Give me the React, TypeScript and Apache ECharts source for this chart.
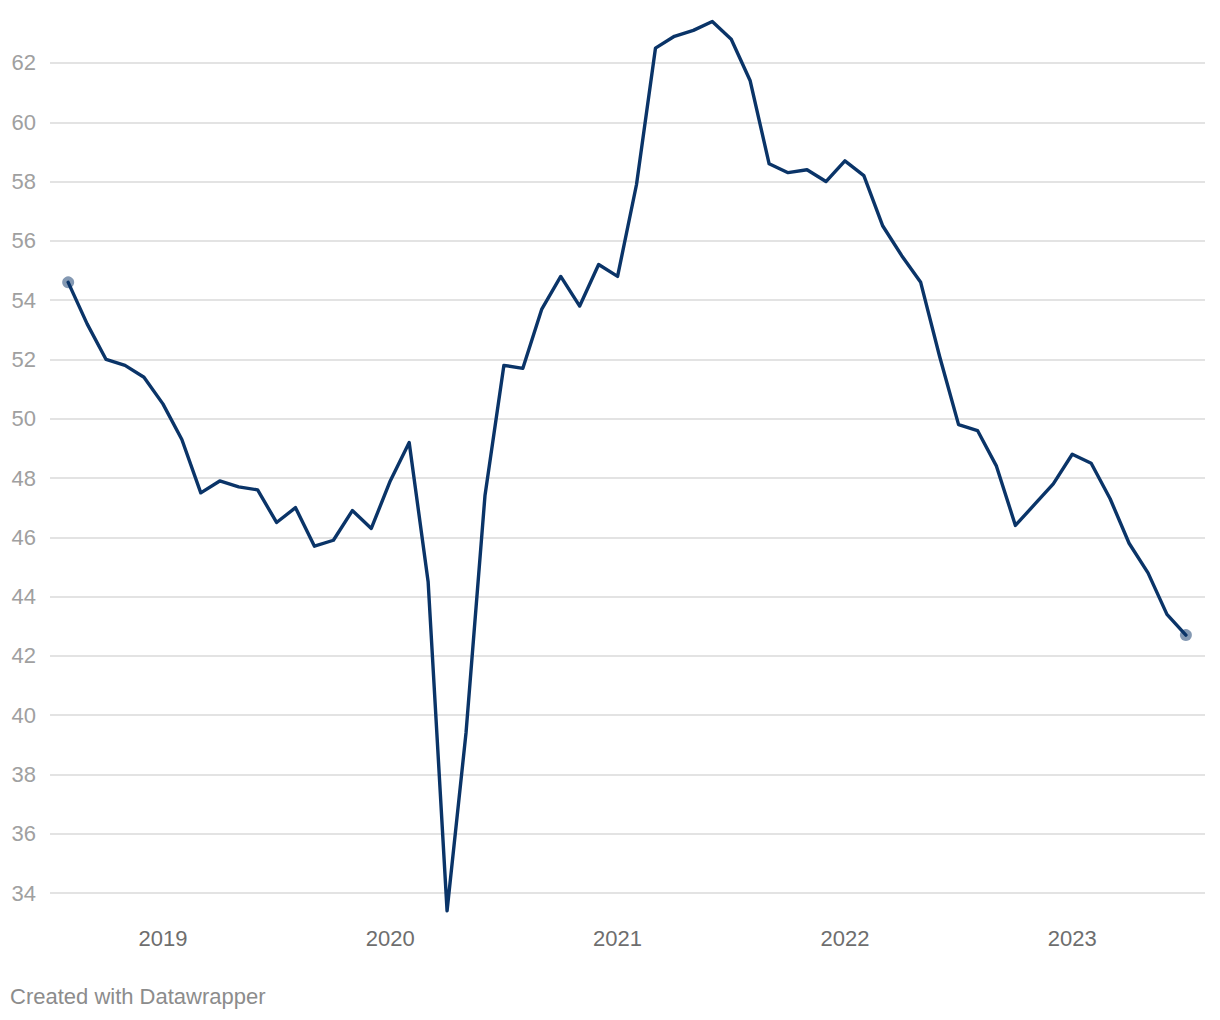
import React, { useEffect, useRef } from "react";
import * as echarts from "echarts";

const months: string[] = [
  "2018-08", "2018-09", "2018-10", "2018-11", "2018-12",
  "2019-01", "2019-02", "2019-03", "2019-04", "2019-05", "2019-06", "2019-07", "2019-08", "2019-09", "2019-10", "2019-11", "2019-12",
  "2020-01", "2020-02", "2020-03", "2020-04", "2020-05", "2020-06", "2020-07", "2020-08", "2020-09", "2020-10", "2020-11", "2020-12",
  "2021-01", "2021-02", "2021-03", "2021-04", "2021-05", "2021-06", "2021-07", "2021-08", "2021-09", "2021-10", "2021-11", "2021-12",
  "2022-01", "2022-02", "2022-03", "2022-04", "2022-05", "2022-06", "2022-07", "2022-08", "2022-09", "2022-10", "2022-11", "2022-12",
  "2023-01", "2023-02", "2023-03", "2023-04", "2023-05", "2023-06", "2023-07",
];

const values: number[] = [
  54.6, 53.2, 52.0, 51.8, 51.4,
  50.5, 49.3, 47.5, 47.9, 47.7, 47.6, 46.5, 47.0, 45.7, 45.9, 46.9, 46.3,
  47.9, 49.2, 44.5, 33.4, 39.4, 47.4, 51.8, 51.7, 53.7, 54.8, 53.8, 55.2,
  54.8, 57.9, 62.5, 62.9, 63.1, 63.4, 62.8, 61.4, 58.6, 58.3, 58.4, 58.0,
  58.7, 58.2, 56.5, 55.5, 54.6, 52.1, 49.8, 49.6, 48.4, 46.4, 47.1, 47.8,
  48.8, 48.5, 47.3, 45.8, 44.8, 43.4, 42.7,
];

const yearTicks: number[] = [2019, 2020, 2021, 2022, 2023];

const footer = "Created with Datawrapper";

// month string -> decimal year (e.g. "2019-01" -> 2019.0)
const toYear = (m: string) => {
  const [y, mo] = m.split("-").map(Number);
  return y + (mo - 1) / 12;
};

export default function App() {
  const ref = useRef<HTMLDivElement>(null);

  useEffect(() => {
    document.body.style.margin = "0";
    if (!ref.current) return;
    const chart = echarts.init(ref.current, undefined, { renderer: "svg" });
    const lineData = months.map((m, i) => [toYear(m), values[i]]);
    const endData = [lineData[0], lineData[lineData.length - 1]];
    const font = "'Liberation Sans', Arial, Helvetica, sans-serif";
    const lineColor = "#0a3468";
    const xMin = toYear(months[0]) - 0.08;
    const xMax = toYear(months[months.length - 1]) + 0.084;

    chart.setOption({
      animation: false,
      textStyle: { fontFamily: font },
      grid: { left: 50, right: 15, top: 3.7, bottom: 67.7, containLabel: false },
      xAxis: {
        type: "value",
        min: xMin,
        max: xMax,
        axisLine: { show: false },
        axisTick: { show: false },
        splitLine: { show: false },
        axisLabel: {
          customValues: yearTicks,
          formatter: (v: number) => String(Math.round(v)),
          color: "#6e6e6e",
          fontSize: 22,
          fontFamily: font,
          margin: -25,
          hideOverlap: false,
        },
      },
      yAxis: {
        type: "value",
        min: 32,
        max: 64,
        interval: 2,
        axisLine: { show: false },
        axisTick: { show: false },
        axisLabel: {
          color: "#a0a0a0",
          fontSize: 22,
          fontFamily: font,
          margin: 14,
          showMinLabel: false,
          showMaxLabel: false,
        },
        splitLine: {
          show: true,
          showMinLine: false,
          showMaxLine: false,
          lineStyle: { color: "#e3e3e3", width: 2 },
        },
      },
      series: [
        {
          type: "line",
          data: lineData,
          showSymbol: false,
          symbol: "none",
          lineStyle: { color: lineColor, width: 3.4, join: "round", cap: "round" },
          z: 3,
        },
        {
          type: "scatter",
          data: endData,
          symbol: "circle",
          symbolSize: 12,
          itemStyle: { color: lineColor, opacity: 0.5 },
          z: 4,
        },
      ],
      graphic: [
        {
          type: "text",
          left: 10,
          top: 985,
          style: {
            text: footer,
            fill: "#8c8c8c",
            fontSize: 22,
            fontFamily: font,
          },
        },
      ],
    });

    return () => chart.dispose();
  }, []);

  return <div ref={ref} style={{ width: 1220, height: 1020 }} />;
}
